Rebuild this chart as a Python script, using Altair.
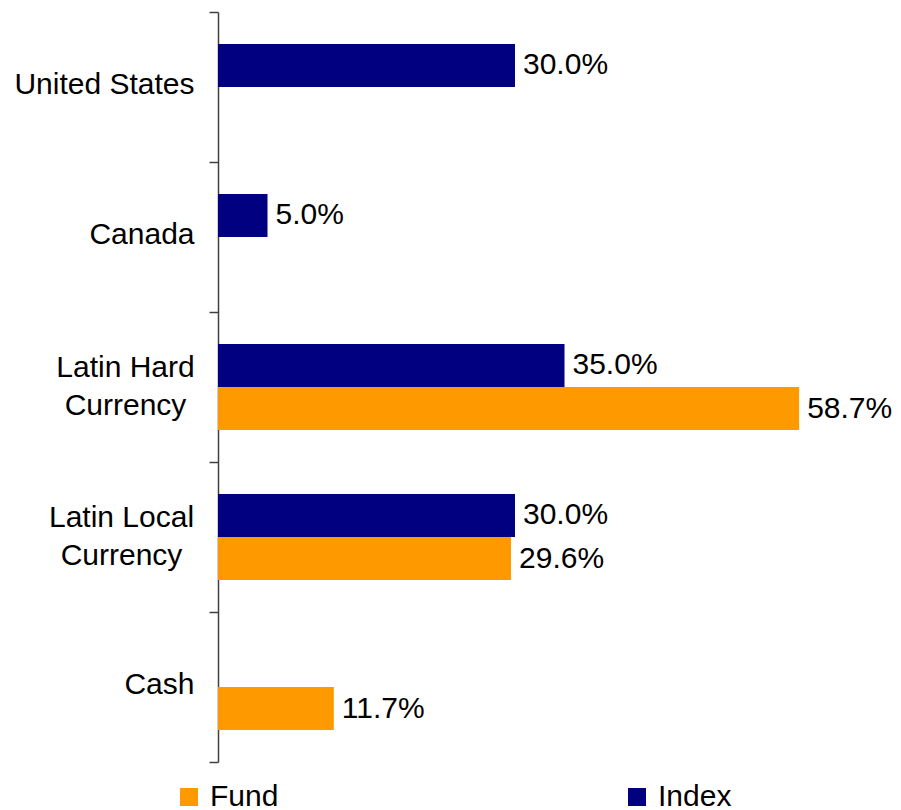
import altair as alt
import pandas as pd

categories = ["United States", "Canada", "Latin Hard Currency", "Latin Local Currency", "Cash"]
index_values = [30.0, 5.0, 35.0, 30.0, None]
fund_values = [None, None, 58.7, 29.6, 11.7]
series = ["Fund", "Index"]
colors = ["#FF9900", "#000080"]

rows = []
for c, iv, fv in zip(categories, index_values, fund_values):
    if iv is not None:
        rows.append({"category": c, "series": "Index", "value": iv})
    if fv is not None:
        rows.append({"category": c, "series": "Fund", "value": fv})
df = pd.DataFrame(rows)
df["label"] = df["value"].map(lambda v: f"{v:.1f}%")

FONT = "Liberation Sans"
TWO_LINE = "indexof(datum.label, ' Currency') > 0"

y = alt.Y(
    "category:N",
    sort=categories,
    title=None,
    scale=alt.Scale(paddingInner=0, paddingOuter=0),
    axis=alt.Axis(
        tickBand="extent",
        tickSize=9,
        tickColor="#404040",
        tickWidth=1.5,
        domainColor="#404040",
        domainWidth=1.5,
        labelFontSize=30,
        labelFont=FONT,
        labelColor="black",
        labelLineHeight=38,
        labelLimit=400,
        labelAlign={"condition": {"test": TWO_LINE, "value": "center"}, "value": "right"},
        labelPadding={
            "condition": [
                {"test": "datum.label == 'Latin Hard Currency'", "value": 84},
                {"test": "datum.label == 'Latin Local Currency'", "value": 88},
            ],
            "value": 15,
        },
        labelOffset={"condition": {"test": TWO_LINE, "value": -20}, "value": -3},
        grid=False,
        labelExpr=TWO_LINE
        + " ? [replace(datum.label, ' Currency', ''), 'Currency'] : datum.label",
    ),
)
yoff = alt.YOffset(
    "series:N",
    scale=alt.Scale(domain=["Index", "Fund"], paddingInner=0, paddingOuter=0.744),
)
x = alt.X("value:Q", scale=alt.Scale(domain=[0, 60]), axis=None)

bars = alt.Chart(df).mark_bar().encode(
    x=x,
    y=y,
    yOffset=yoff,
    color=alt.Color(
        "series:N",
        scale=alt.Scale(domain=series, range=colors),
        legend=alt.Legend(
            orient="none",
            legendX=-44,
            legendY=770,
            direction="horizontal",
            title=None,
            symbolType="square",
            symbolSize=324,
            symbolStrokeWidth=0,
            symbolOpacity=1,
            labelFontSize=30,
            labelFont=FONT,
            labelColor="black",
            labelOffset=6,
            columnPadding=343,
            padding=0,
        ),
    ),
)

text = alt.Chart(df).mark_text(
    align="left", baseline="middle", dx=8, fontSize=30, font=FONT, color="black"
).encode(x=x, y=y, yOffset=yoff, text="label:N")

chart = (
    alt.layer(bars, text)
    .properties(
        width=594,
        height=750,
        padding={"left": 210, "top": 4, "right": 80, "bottom": 48},
        autosize=alt.AutoSizeParams(type="none"),
    )
    .configure_view(stroke=None)
)

chart.save("out.html", embed_options={"renderer": "svg", "actions": False})
